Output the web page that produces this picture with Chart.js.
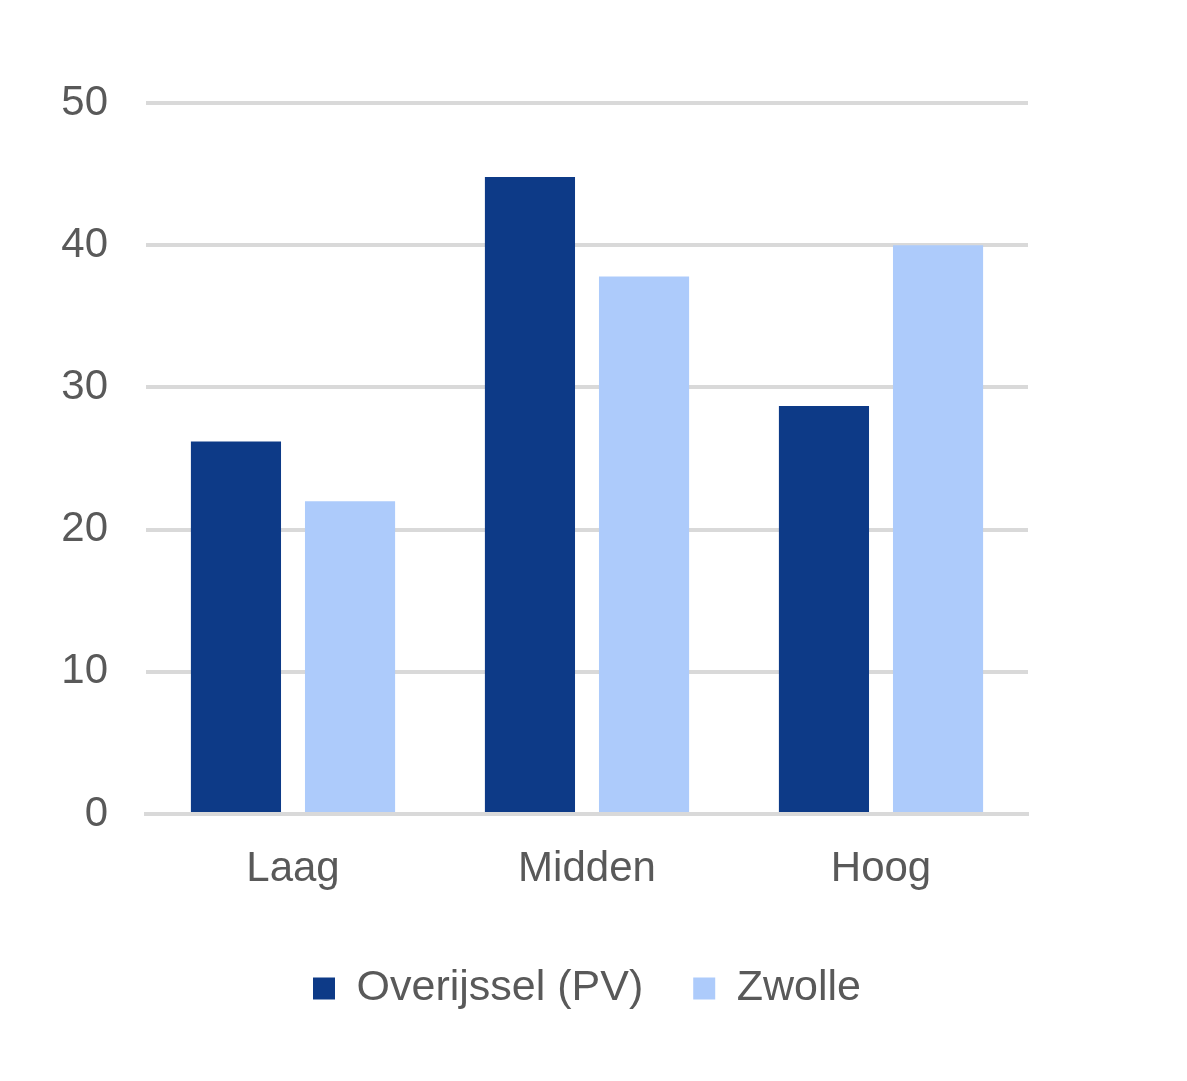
<!DOCTYPE html>
<html>
<head>
<meta charset="utf-8">
<script src="https://cdn.jsdelivr.net/npm/chart.js@4/dist/chart.umd.min.js"></script>
<style>
  html, body { margin: 0; padding: 0; background: #fff; }
  #wrap { width: 1187px; height: 1081px; }
</style>
</head>
<body>
<div id="wrap"><canvas id="niveauChart"></canvas></div>
<script>
const categories = ['Laag', 'Midden', 'Hoog'];
const overijssel = [26.2, 44.8, 28.7];
const zwolle = [22.0, 37.8, 40.0];
const yTicks = [0, 10, 20, 30, 40, 50];

const textColor = '#595959';
const gridColor = '#d9d9d9';
const fontFamily = 'Arial, "Liberation Sans", sans-serif';

const ctx = document.getElementById('niveauChart').getContext('2d');

new Chart(ctx, {
    type: 'bar',
    data: {
        labels: categories,
        datasets: [
            {
                label: 'Overijssel (PV)',
                data: overijssel,
                backgroundColor: '#0d3a87'
            },
            {
                label: 'Zwolle',
                data: zwolle,
                backgroundColor: '#adcbfb'
            }
        ]
    },
    options: {
        responsive: true,
        maintainAspectRatio: false,
        animation: false,
        categoryPercentage: 0.776,
        barPercentage: 0.79,
        layout: {
            padding: { top: 103, right: 159, left: 0, bottom: 61 }
        },
        scales: {
            x: {
                grid: { display: false, drawTicks: false },
                border: { display: true, color: gridColor, width: 4 },
                ticks: {
                    color: textColor,
                    padding: 30,
                    font: { size: 42, family: fontFamily }
                },
                afterFit: function(scale) { scale.height = 103; }
            },
            y: {
                min: 0,
                max: 50,
                afterBuildTicks: function(scale) {
                    scale.ticks = yTicks.map(v => ({ value: v }));
                },
                grid: { color: gridColor, lineWidth: 4, drawTicks: false },
                border: { display: false },
                ticks: {
                    color: textColor,
                    padding: 38,
                    font: { size: 42, family: fontFamily }
                },
                afterFit: function(scale) { scale.width = 146; }
            }
        },
        plugins: {
            legend: {
                position: 'bottom',
                fullSize: false,
                labels: {
                    color: textColor,
                    boxWidth: 22,
                    boxHeight: 22,
                    padding: 50,
                    font: { size: 43, family: fontFamily }
                }
            },
            tooltip: { enabled: false }
        }
    }
});
</script>
</body>
</html>
